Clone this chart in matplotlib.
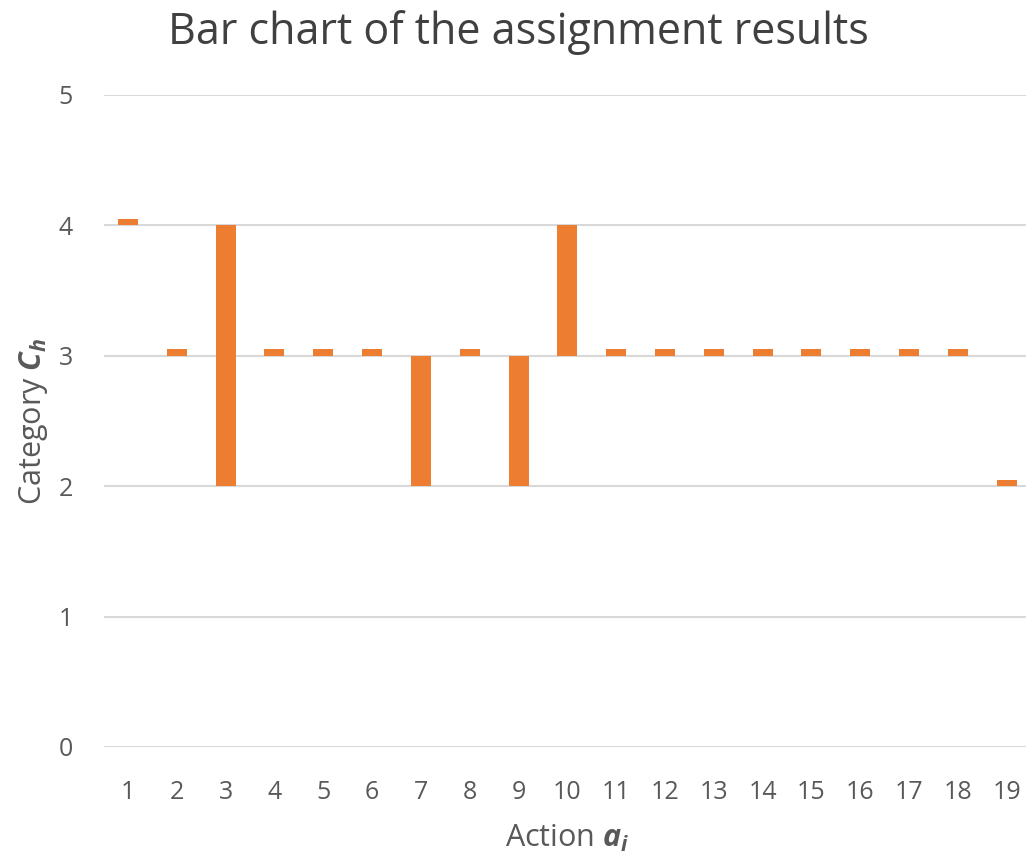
import matplotlib.pyplot as plt

plt.rcParams['font.family'] = ['Open Sans', 'DejaVu Sans']
plt.rcParams['mathtext.fontset'] = 'custom'
plt.rcParams['mathtext.rm'] = 'Open Sans'
plt.rcParams['mathtext.it'] = 'Open Sans:italic'
plt.rcParams['mathtext.bf'] = 'Open Sans:bold'
plt.rcParams['mathtext.bfit'] = 'Open Sans:italic:bold'

actions = list(range(1, 20))
# floating bars: lower and upper end of each bar
lows = [4, 3, 2, 3, 3, 3, 2, 3, 2, 3, 3, 3, 3, 3, 3, 3, 3, 3, 2]
highs = [4.05, 3.05, 4, 3.05, 3.05, 3.05, 3, 3.05, 3, 4,
         3.05, 3.05, 3.05, 3.05, 3.05, 3.05, 3.05, 3.05, 2.05]
yticks = [0, 1, 2, 3, 4, 5]

heights = [h - l for h, l in zip(highs, lows)]

fig = plt.figure(figsize=(10.26, 8.58), dpi=100)
ax = fig.add_axes([0.101, 0.1294, 0.904, 0.760])

ax.bar(actions, heights, bottom=lows, width=0.41, color='#ED7D31', zorder=3)

ax.set_xlim(0.5, 19.5)
ax.set_ylim(0, 5)
ax.set_xticks(actions)
ax.set_yticks(yticks)
ax.grid(axis='y', color='#D9D9D9', linewidth=1.5, zorder=0)
for s in ax.spines.values():
    s.set_visible(False)
ax.tick_params(length=0, labelsize=18, labelcolor='#595959')
ax.tick_params(axis='x', pad=24)
ax.tick_params(axis='y', pad=22)

fig.text(0.505, 0.962, 'Bar chart of the assignment results', fontsize=31,
         color='#404040', ha='center', va='center')
ax.set_xlabel(r'Action $\mathbfit{a_i}$', fontsize=22, color='#595959', labelpad=13)
ax.set_ylabel(r'Category $\mathbfit{C_h}$', fontsize=22, color='#595959', labelpad=6)

fig.savefig('out.png', dpi=100)
